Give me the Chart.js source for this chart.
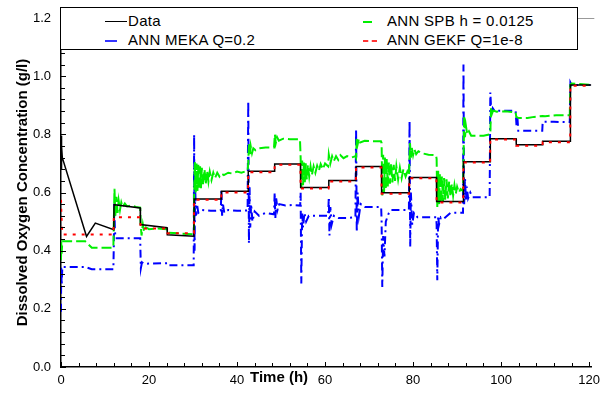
<!DOCTYPE html>
<html>
<head>
<meta charset="utf-8">
<script src="https://cdn.jsdelivr.net/npm/chart.js@4"></script>
<style>
  html, body { margin: 0; padding: 0; background: #fff; overflow: hidden; }
  #wrap { position: relative; width: 606px; height: 396px; font-family: "Liberation Sans", Arial, sans-serif; }
  #chart { position: absolute; left: 0; top: 0; }
  #legend { position: absolute; left: 60px; top: 7px; width: 516px; height: 41px; border: 1.5px solid #000; background: #fff; }
  .item { position: absolute; font-size: 15px; letter-spacing: 0.3px; color: #000; white-space: nowrap; line-height: 18px; }
  .swatch { position: absolute; height: 0; }
  #xtitle { position: absolute; left: 250px; top: 368px; font-size: 15px; font-weight: bold; color: #000; white-space: nowrap; }
</style>
</head>
<body>
<div id="wrap">
  <canvas id="chart" width="606" height="396"></canvas>
  <div id="legend">
    <div class="swatch" style="left:44px;top:13px;width:22px;border-top:1.5px solid #000;"></div>
    <div class="item" style="left:67px;top:4px;">Data</div>
    <div class="swatch" style="left:44px;top:32px;width:12px;border-top:2px solid #3333ff;"></div>
    <div class="item" style="left:67px;top:23px;">ANN MEKA Q=0.2</div>
    <div class="swatch" style="left:302px;top:13px;width:9px;border-top:2px solid #00ee00;"></div>
    <div class="item" style="left:326px;top:4px;">ANN SPB h = 0.0125</div>
    <div class="swatch" style="left:302px;top:32px;width:14px;border-top:2px dashed #ff3333;"></div>
    <div class="item" style="left:326px;top:23px;">ANN GEKF Q=1e-8</div>
  </div>
  <div id="xtitle">Time (h)</div>
</div>
<script>
// ---- values ----
const dataT = [0, 0.05, 0.12, 0.2, 0.3, 5.8, 7.8, 12.0, 12.05, 18.0, 18.05, 24.1, 24.15, 30.2, 30.25, 36.4, 36.45, 42.5, 42.55,
  48.5, 48.55, 54.4, 54.45, 60.8, 60.85, 67.0, 67.05, 72.8, 72.85, 79.1, 79.15, 85.3, 85.35, 91.4, 91.45, 97.5, 97.55,
  103.4, 103.45, 109.4, 109.45, 115.7, 115.75, 120.5];
const dataV = [0.68, 0.795, 0.70, 0.76, 0.72, 0.449, 0.495, 0.472, 0.558, 0.547, 0.49, 0.479, 0.455, 0.45, 0.578, 0.578, 0.604, 0.604, 0.673,
  0.673, 0.698, 0.698, 0.617, 0.617, 0.641, 0.641, 0.689, 0.689, 0.599, 0.599, 0.652, 0.652, 0.569, 0.569, 0.706, 0.706, 0.785,
  0.785, 0.764, 0.764, 0.776, 0.776, 0.97, 0.97];

const gekfT = [0, 0.1, 0.3, 11.9, 12.0, 18.0, 18.1, 24.1, 24.2, 30.2, 30.25, 36.4, 36.45, 42.5, 42.55, 48.5, 48.55, 54.4, 54.45,
  60.8, 60.85, 67.0, 67.05, 72.8, 72.85, 79.1, 79.15, 85.3, 85.35, 91.4, 91.45, 97.5, 97.55, 103.4, 103.45, 109.4, 109.45,
  115.7, 115.75, 120.5];
const gekfV = [0.575, 0.52, 0.456, 0.456, 0.515, 0.515, 0.476, 0.476, 0.46, 0.46, 0.575, 0.575, 0.60, 0.60, 0.67, 0.67, 0.695, 0.695, 0.614,
  0.614, 0.638, 0.638, 0.686, 0.686, 0.596, 0.596, 0.649, 0.649, 0.566, 0.566, 0.703, 0.703, 0.782, 0.782, 0.761, 0.761, 0.773,
  0.773, 0.967, 0.967];

const spbT = [0, 0.05, 0.15, 0.3, 5.5, 7.0, 11.9,
  12.0, 12.15, 12.35, 12.6, 12.85, 13.1, 13.4, 13.7, 14.0, 14.5, 15.0, 16.0, 17.0, 18.0,
  18.1, 18.3, 18.6, 18.9, 19.3, 20, 22, 24.1, 24.2, 30.2,
  30.25, 30.4, 30.6, 30.8, 31.0, 31.2, 31.4, 31.6, 31.8, 32.0, 32.3, 32.6, 32.9, 33.2, 33.5, 33.8, 34.2, 34.6, 35.0, 35.5, 36.0, 36.4,
  37, 38, 39, 40, 41, 42.4,
  42.55, 42.7, 42.9, 43.1, 43.4, 43.7, 44.2, 45, 46.5, 48.4,
  48.6, 48.8, 49.1, 49.5, 50.5, 52, 54.3,
  54.45, 54.6, 54.8, 55.0, 55.2, 55.4, 55.6, 55.85, 56.1, 56.4, 56.7, 57.0, 57.4, 57.8, 58.2, 58.6, 59.0, 59.5, 60.0, 60.7,
  60.85, 61.2, 61.6, 62.0, 62.5, 63, 63.5, 64.2, 65, 66, 66.9,
  67.05, 67.2, 67.4, 67.7, 68.0, 69, 70.5, 72.7,
  72.85, 73.0, 73.2, 73.4, 73.6, 73.8, 74.0, 74.25, 74.5, 74.75, 75.0, 75.3, 75.6, 75.9, 76.2, 76.6, 77.0, 77.4, 77.8, 78.3, 78.7, 79.05,
  79.15, 79.3, 79.5, 79.7, 80.0, 80.3, 80.7, 81.2, 82, 83.5, 85.2,
  85.35, 85.5, 85.7, 85.9, 86.1, 86.3, 86.55, 86.8, 87.05, 87.3, 87.6, 87.9, 88.2, 88.5, 88.8, 89.1, 89.4, 89.7, 90.0, 90.4, 90.8, 91.35,
  91.45, 91.6, 91.8, 92.0, 92.3, 92.7, 93.2, 94.5, 96.0, 97.4,
  97.55, 97.7, 97.9, 98.2, 99, 101, 103.3,
  103.45, 104, 106, 107.5, 109.4, 110, 112.5, 115.6,
  115.75, 116, 120.5];
const spbV = [0.367, 0.43, 0.39, 0.432, 0.432, 0.41, 0.41,
  0.50, 0.613, 0.52, 0.585, 0.53, 0.572, 0.54, 0.566, 0.55, 0.562, 0.552, 0.556, 0.55, 0.548,
  0.49, 0.452, 0.49, 0.465, 0.48, 0.474, 0.476, 0.474, 0.462, 0.456,
  0.58, 0.705, 0.60, 0.70, 0.605, 0.695, 0.61, 0.69, 0.615, 0.685, 0.625, 0.68, 0.63, 0.675, 0.638, 0.672, 0.643, 0.668, 0.65, 0.668, 0.655, 0.665,
  0.66, 0.668, 0.665, 0.672, 0.668, 0.675,
  0.70, 0.77, 0.725, 0.76, 0.735, 0.752, 0.745, 0.752, 0.755, 0.755,
  0.80, 0.77, 0.79, 0.778, 0.785, 0.783, 0.783,
  0.72, 0.615, 0.71, 0.625, 0.705, 0.635, 0.70, 0.645, 0.695, 0.655, 0.69, 0.66, 0.69, 0.668, 0.692, 0.675, 0.698, 0.68, 0.70, 0.69,
  0.73, 0.70, 0.725, 0.708, 0.725, 0.712, 0.728, 0.718, 0.725, 0.72, 0.725,
  0.72, 0.79, 0.765, 0.785, 0.772, 0.778, 0.776, 0.776,
  0.77, 0.59, 0.73, 0.60, 0.72, 0.61, 0.715, 0.62, 0.705, 0.63, 0.70, 0.635, 0.695, 0.64, 0.69, 0.645, 0.685, 0.65, 0.68, 0.655, 0.672, 0.66,
  0.70, 0.77, 0.72, 0.755, 0.728, 0.748, 0.732, 0.742, 0.735, 0.73, 0.728,
  0.716, 0.55, 0.675, 0.56, 0.665, 0.565, 0.655, 0.57, 0.65, 0.575, 0.645, 0.58, 0.638, 0.585, 0.63, 0.59, 0.625, 0.595, 0.62, 0.60, 0.612, 0.605,
  0.70, 0.864, 0.79, 0.83, 0.80, 0.81, 0.795, 0.795, 0.795, 0.80,
  0.80, 0.89, 0.87, 0.882, 0.878, 0.879, 0.876,
  0.86, 0.856, 0.856, 0.86, 0.863, 0.862, 0.866, 0.866,
  0.97, 0.975, 0.97];

const mekaT = [0, 0.05, 0.15, 0.3, 5.5, 7.0, 11.9,
  12.0, 12.1, 12.25, 12.4, 18.0,
  18.05, 18.15, 18.4, 18.8, 24.1, 24.2, 30.15,
  30.25, 30.35, 30.5, 30.65, 30.9, 31.2, 32, 34, 36.3,
  36.45, 36.6, 36.8, 37.1, 38, 40, 42.4,
  42.55, 42.7, 42.85, 43.0, 43.2, 43.5, 44, 45, 46.5, 48.4,
  48.55, 48.7, 48.9, 49.2, 49.6, 51, 52.5, 54.35,
  54.45, 54.6, 54.8, 55.0, 55.3, 55.7, 56.3, 58, 60.7,
  60.85, 61.0, 61.2, 61.5, 62, 63, 65, 66.9,
  67.05, 67.2, 67.4, 67.7, 68.1, 69, 71.5, 72.75,
  72.85, 73.0, 73.2, 73.5, 73.8, 74.5, 75, 77.8, 79.05,
  79.2, 79.35, 79.5, 79.8, 80.2, 81, 83, 85.25,
  85.35, 85.5, 85.7, 85.9, 86.3, 87, 88.5, 91.35,
  91.45, 91.6, 91.8, 92.0, 92.2, 92.5, 93.0, 93.5, 95, 97.4,
  97.55, 97.8, 98.1, 98.5, 100, 103.3,
  103.5, 103.7, 103.9, 106.8, 109.35,
  109.45, 112, 115.6,
  115.75, 116, 120.5];
const mekaV = [0.19, 0.345, 0.28, 0.344, 0.344, 0.336, 0.336,
  0.42, 0.561, 0.47, 0.443, 0.443,
  0.40, 0.34, 0.36, 0.355, 0.357, 0.35, 0.35,
  0.80, 0.40, 0.62, 0.52, 0.56, 0.53, 0.54, 0.537, 0.538,
  0.61, 0.52, 0.56, 0.53, 0.54, 0.537, 0.538,
  0.915, 0.425, 0.62, 0.48, 0.56, 0.50, 0.535, 0.52, 0.53, 0.525,
  0.60, 0.51, 0.58, 0.54, 0.56, 0.555, 0.557, 0.555,
  0.60, 0.287, 0.53, 0.48, 0.53, 0.50, 0.52, 0.52, 0.52,
  0.584, 0.452, 0.55, 0.49, 0.52, 0.512, 0.512, 0.515,
  0.818, 0.464, 0.60, 0.52, 0.56, 0.55, 0.55, 0.55,
  0.50, 0.275, 0.45, 0.38, 0.50, 0.53, 0.54, 0.54, 0.54,
  0.847, 0.412, 0.60, 0.49, 0.53, 0.515, 0.515, 0.515,
  0.49, 0.298, 0.52, 0.49, 0.515, 0.51, 0.53, 0.53,
  1.04, 0.56, 0.65, 0.57, 0.62, 0.58, 0.60, 0.584, 0.584, 0.584,
  0.944, 0.87, 0.89, 0.881, 0.881, 0.881,
  0.83, 0.86, 0.812, 0.812, 0.812,
  0.843, 0.843, 0.842,
  0.978, 0.97, 0.97];

const xTickStep = 20;
const yTickStep = 0.2;

const pts = (ts, vs) => ts.map((t, i) => ({ x: t, y: vs[i] }));

// inward major/minor ticks + thin top frame line
const frame = {
  id: 'frame',
  afterDraw(chart) {
    const { ctx, chartArea: a, scales: { x, y } } = chart;
    ctx.save();
    ctx.strokeStyle = '#000';
    ctx.lineWidth = 1;
    ctx.beginPath();
    for (let i = 0; i <= 30; i++) {
      const py = Math.round(y.getPixelForValue(i * 0.04)) + 0.5;
      const len = i % 5 === 0 ? 5 : 4;
      ctx.moveTo(a.left, py); ctx.lineTo(a.left + len, py);
    }
    for (let i = 0; i <= 30; i++) {
      const px = Math.round(x.getPixelForValue(i * 4)) + 0.5;
      if (px > a.right) break;
      const len = i % 5 === 0 ? 5 : 4;
      ctx.moveTo(px, a.bottom); ctx.lineTo(px, a.bottom - len);
    }
    ctx.stroke();
    ctx.strokeStyle = '#999';
    ctx.beginPath();
    ctx.moveTo(a.left, Math.round(a.top) + 0.5); ctx.lineTo(a.right + 3, Math.round(a.top) + 0.5);
    ctx.stroke();
    ctx.restore();
  }
};

new Chart(document.getElementById('chart'), {
  type: 'line',
  data: {
    datasets: [
      { label: 'ANN GEKF Q=1e-8', data: pts(gekfT, gekfV), borderColor: '#ff0000', borderWidth: 2, borderDash: [3, 6], order: 0 },
      { label: 'Data', data: pts(dataT, dataV), borderColor: '#000000', borderWidth: 1.5, order: 1 },
      { label: 'ANN SPB h = 0.0125', data: pts(spbT, spbV), borderColor: '#00ee00', borderWidth: 2, borderDash: [10, 4], order: 2 },
      { label: 'ANN MEKA Q=0.2', data: pts(mekaT, mekaV), borderColor: '#0000ff', borderWidth: 2, borderDash: [8, 4, 2, 4], order: 3 }
    ]
  },
  options: {
    responsive: false,
    animation: false,
    parsing: false,
    elements: { point: { radius: 0 }, line: { tension: 0, fill: false } },
    layout: { padding: { top: 18, right: 8, left: 0, bottom: 0 } },
    plugins: { legend: { display: false }, tooltip: { enabled: false } },
    scales: {
      x: {
        type: 'linear', min: 0, max: 120.5,
        afterFit: s => { s.height = 29; },
        ticks: { stepSize: xTickStep, includeBounds: false, padding: 6, color: '#000', font: { family: 'Liberation Sans', size: 13 } },
        grid: { display: true, drawOnChartArea: false, drawTicks: false },
        border: { color: '#000', width: 1.5 }
      },
      y: {
        type: 'linear', min: 0, max: 1.2,
        afterFit: s => { s.width = 61; },
        ticks: { stepSize: yTickStep, padding: 10, color: '#000', font: { family: 'Liberation Sans', size: 13 },
                 callback: v => Number(v).toFixed(1) },
        grid: { display: true, drawOnChartArea: false, drawTicks: false },
        border: { color: '#000', width: 1.5 },
        title: { display: true, text: 'Dissolved Oxygen Concentration (g/l)', color: '#000',
                 font: { family: 'Liberation Sans', size: 15, weight: 'bold' }, padding: { top: 14, bottom: 0 } }
      }
    }
  },
  plugins: [frame]
});
</script>
</body>
</html>
